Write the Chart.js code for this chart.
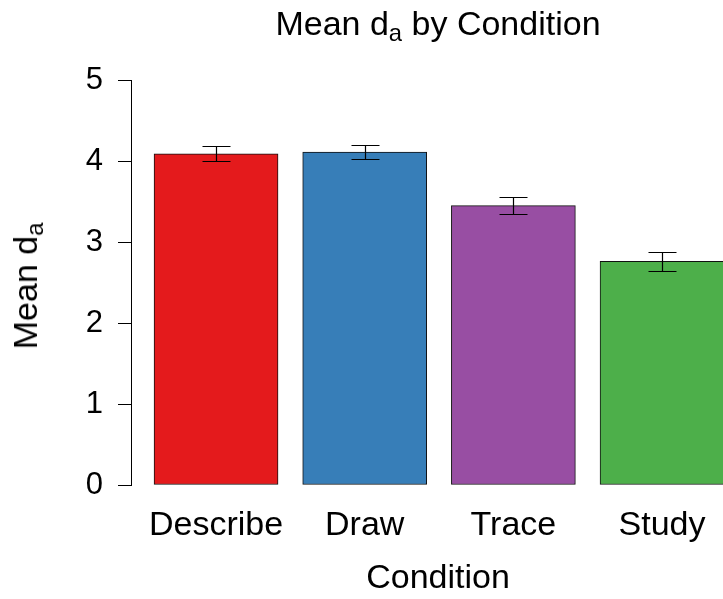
<!DOCTYPE html>
<html>
<head>
<meta charset="utf-8">
<script src="https://cdn.jsdelivr.net/npm/chart.js@4"></script>
<style>
    html, body { margin: 0; padding: 0; background: #fff; }
    #wrap { position: relative; width: 723px; height: 599px; overflow: hidden; }
    #chart { position: absolute; left: 0; top: 0; }
    .lbl {
        position: absolute;
        font-family: "Liberation Sans", Arial, sans-serif;
        font-size: 34px;
        line-height: 34px;
        color: #000;
        white-space: nowrap;
    }
    .lbl sub { font-size: 70%; line-height: 0; vertical-align: -0.25em; }
    #mainTitle { left: 438px; top: 6px; transform: translateX(-50%); }
    #yTitle { left: 25px; top: 286px; transform: translate(-50%, -50%) rotate(-90deg); }
</style>
</head>
<body>
<div id="wrap">
    <canvas id="chart" width="745" height="599"></canvas>
    <div id="mainTitle" class="lbl">Mean d<sub>a</sub> by Condition</div>
    <div id="yTitle" class="lbl">Mean d<sub>a</sub></div>
</div>
<script>
// Dati del grafico
const categories = ['Describe', 'Draw', 'Trace', 'Study'];
const means = [4.09, 4.11, 3.45, 2.76];
const errors = [0.09, 0.09, 0.11, 0.12];
const barColors = ['#E41A1C', '#377EB8', '#984EA3', '#4DAF4A'];
const yTicks = [0, 1, 2, 3, 4, 5];

const FONT = '"Liberation Sans", Arial, sans-serif';

/**
 * Disegna le barre di errore sopra le barre
 */
const errorBarsPlugin = {
    id: 'errorBars',
    afterDatasetsDraw(chart, args, opts) {
        const ctx = chart.ctx;
        const xs = chart.scales.x;
        const ys = chart.scales.y;
        ctx.save();
        ctx.strokeStyle = '#000';
        ctx.lineWidth = 1.2;
        means.forEach(function(m, i) {
            const x = Math.round(xs.getPixelForValue(i)) + 0.5;
            const yHi = Math.round(ys.getPixelForValue(m + errors[i])) + 0.5;
            const yLo = Math.round(ys.getPixelForValue(m - errors[i])) + 0.5;
            ctx.beginPath();
            ctx.moveTo(x, yHi);
            ctx.lineTo(x, yLo);
            ctx.moveTo(x - opts.capHalf, yHi);
            ctx.lineTo(x + opts.capHalf, yHi);
            ctx.moveTo(x - opts.capHalf, yLo);
            ctx.lineTo(x + opts.capHalf, yLo);
            ctx.stroke();
        });
        ctx.restore();
    }
};

const ctx = document.getElementById('chart').getContext('2d');
new Chart(ctx, {
    type: 'bar',
    data: {
        datasets: [{
            data: means.map(function(m, i) { return { x: i, y: m }; }),
            backgroundColor: barColors,
            borderColor: '#111',
            borderWidth: 1,
            borderSkipped: false,
            barThickness: 124
        }]
    },
    options: {
        responsive: false,
        animation: false,
        devicePixelRatio: 1,
        layout: { padding: { top: 80, left: 0, right: 0, bottom: 0 } },
        plugins: {
            legend: { display: false },
            tooltip: { enabled: false },
            errorBars: { capHalf: 14 }
        },
        scales: {
            x: {
                type: 'linear',
                offset: false,
                min: -0.572,
                max: 3.558,
                afterBuildTicks: function(scale) {
                    scale.ticks = categories.map(function(c, i) { return { value: i }; });
                },
                afterFit: function(scale) { scale.height = 114; },
                grid: { display: false, drawTicks: false },
                border: { display: false },
                ticks: {
                    color: '#000',
                    font: { family: FONT, size: 34 },
                    padding: 20,
                    maxRotation: 0,
                    autoSkip: false,
                    callback: function(v) { return categories[v]; }
                },
                title: {
                    display: true,
                    text: 'Condition',
                    color: '#000',
                    font: { family: FONT, size: 34 },
                    padding: { top: -2, bottom: 0 }
                }
            },
            y: {
                min: 0,
                max: 5,
                afterBuildTicks: function(scale) {
                    scale.ticks = yTicks.map(function(v) { return { value: v }; });
                },
                afterFit: function(scale) { scale.width = 131; },
                grid: {
                    display: true,
                    drawOnChartArea: false,
                    drawTicks: true,
                    tickLength: 13,
                    color: '#000',
                    lineWidth: 1
                },
                border: { display: true, color: '#000', width: 1 },
                ticks: {
                    color: '#000',
                    font: { family: FONT, size: 31 },
                    padding: 15
                }
            }
        }
    },
    plugins: [errorBarsPlugin]
});
</script>
</body>
</html>
